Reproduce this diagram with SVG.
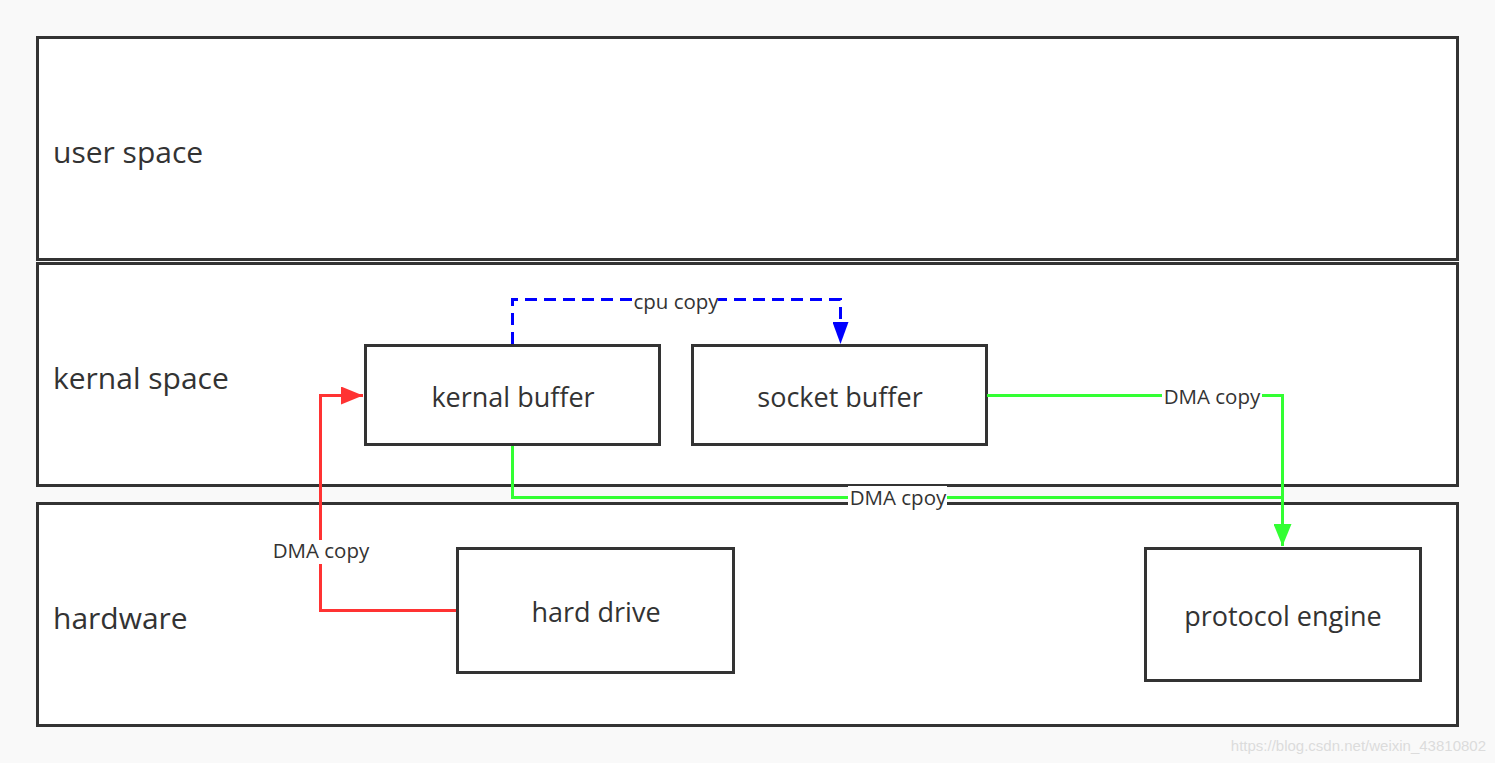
<svg xmlns="http://www.w3.org/2000/svg" width="1495" height="763" viewBox="0 0 1495 763">
<defs>
<style>
.lane{fill:#fff;stroke:#333;stroke-width:3}
.node{fill:#fff;stroke:#333;stroke-width:3}
.lt{font-family:"Open Sans","Noto Sans",sans-serif;font-size:30px;fill:#333}
.nt{font-family:"Open Sans","Noto Sans",sans-serif;font-size:27px;fill:#333;text-anchor:middle}
.el{font-family:"Open Sans","Noto Sans",sans-serif;font-size:20.5px;fill:#333;text-anchor:middle}
.c{fill:none;stroke-width:3}
</style>
<marker id="ag" markerWidth="24" markerHeight="18" refX="22" refY="9" orient="auto" markerUnits="userSpaceOnUse"><path d="M0,0 L22,9 L0,18 Z" fill="#33ff33"/></marker>
<marker id="ar" markerWidth="24" markerHeight="18" refX="22" refY="9" orient="auto" markerUnits="userSpaceOnUse"><path d="M0,0 L22,9 L0,18 Z" fill="#ff3333"/></marker>
<marker id="ab2" markerWidth="24" markerHeight="16" refX="22" refY="8" orient="auto" markerUnits="userSpaceOnUse"><path d="M0,0 L22,8 L0,16 Z" fill="#0000ff"/></marker>
</defs>
<rect width="1495" height="763" fill="#f9f9f9"/>
<g id="lane-user"><rect class="lane" x="37.5" y="37.5" width="1420" height="222"/><text class="lt" x="53" y="163">user space</text></g>
<g id="lane-kernal"><rect class="lane" x="37.5" y="263.5" width="1420" height="222"/><text class="lt" x="53" y="389">kernal space</text></g>
<g id="lane-hardware"><rect class="lane" x="37.5" y="503.5" width="1420" height="222"/><text class="lt" x="53" y="629">hardware</text></g>
<g id="kernal-buffer"><rect class="node" x="365.5" y="345.5" width="294" height="99"/><text class="nt" x="513" y="407">kernal buffer</text></g>
<g id="socket-buffer"><rect class="node" x="692.5" y="345.5" width="294" height="99"/><text class="nt" x="840" y="407">socket buffer</text></g>
<g id="hard-drive"><rect class="node" x="457.5" y="548.5" width="276" height="124"/><text class="nt" x="596" y="622">hard drive</text></g>
<g id="protocol-engine"><rect class="node" x="1145.5" y="548.5" width="275" height="132"/><text class="nt" x="1283" y="626">protocol engine</text></g>
<g id="connectors">
<path class="c" stroke="#0000ff" stroke-dasharray="12,7" d="M512.5,344 V299.5 H840.5 V344" marker-end="url(#ab2)"/>
<rect x="634" y="290" width="84" height="22" fill="#fff"/>
<text class="el" x="676" y="309">cpu copy</text>
<path class="c" stroke="#33ff33" d="M987,395.5 H1282.5 V546" marker-end="url(#ag)"/>
<rect x="1162" y="386" width="100" height="22" fill="#fff"/>
<text class="el" x="1212" y="404">DMA copy</text>
<path class="c" stroke="#33ff33" d="M512.5,446 V497.5 H1282.5"/>
<rect x="848" y="486" width="99" height="24" fill="#fff"/>
<text class="el" x="898" y="505">DMA cpoy</text>
<path class="c" stroke="#ff3333" d="M456,610.5 H320.5 V395.5 H363" marker-end="url(#ar)"/>
<rect x="272" y="540" width="99" height="24" fill="#fff"/>
<text class="el" x="321" y="558">DMA copy</text>
</g>
<text x="1486" y="751" font-family="Liberation Sans, Arial, sans-serif" font-size="15" fill="#dcdcdc" text-anchor="end">https://blog.csdn.net/weixin_43810802</text>
</svg>
